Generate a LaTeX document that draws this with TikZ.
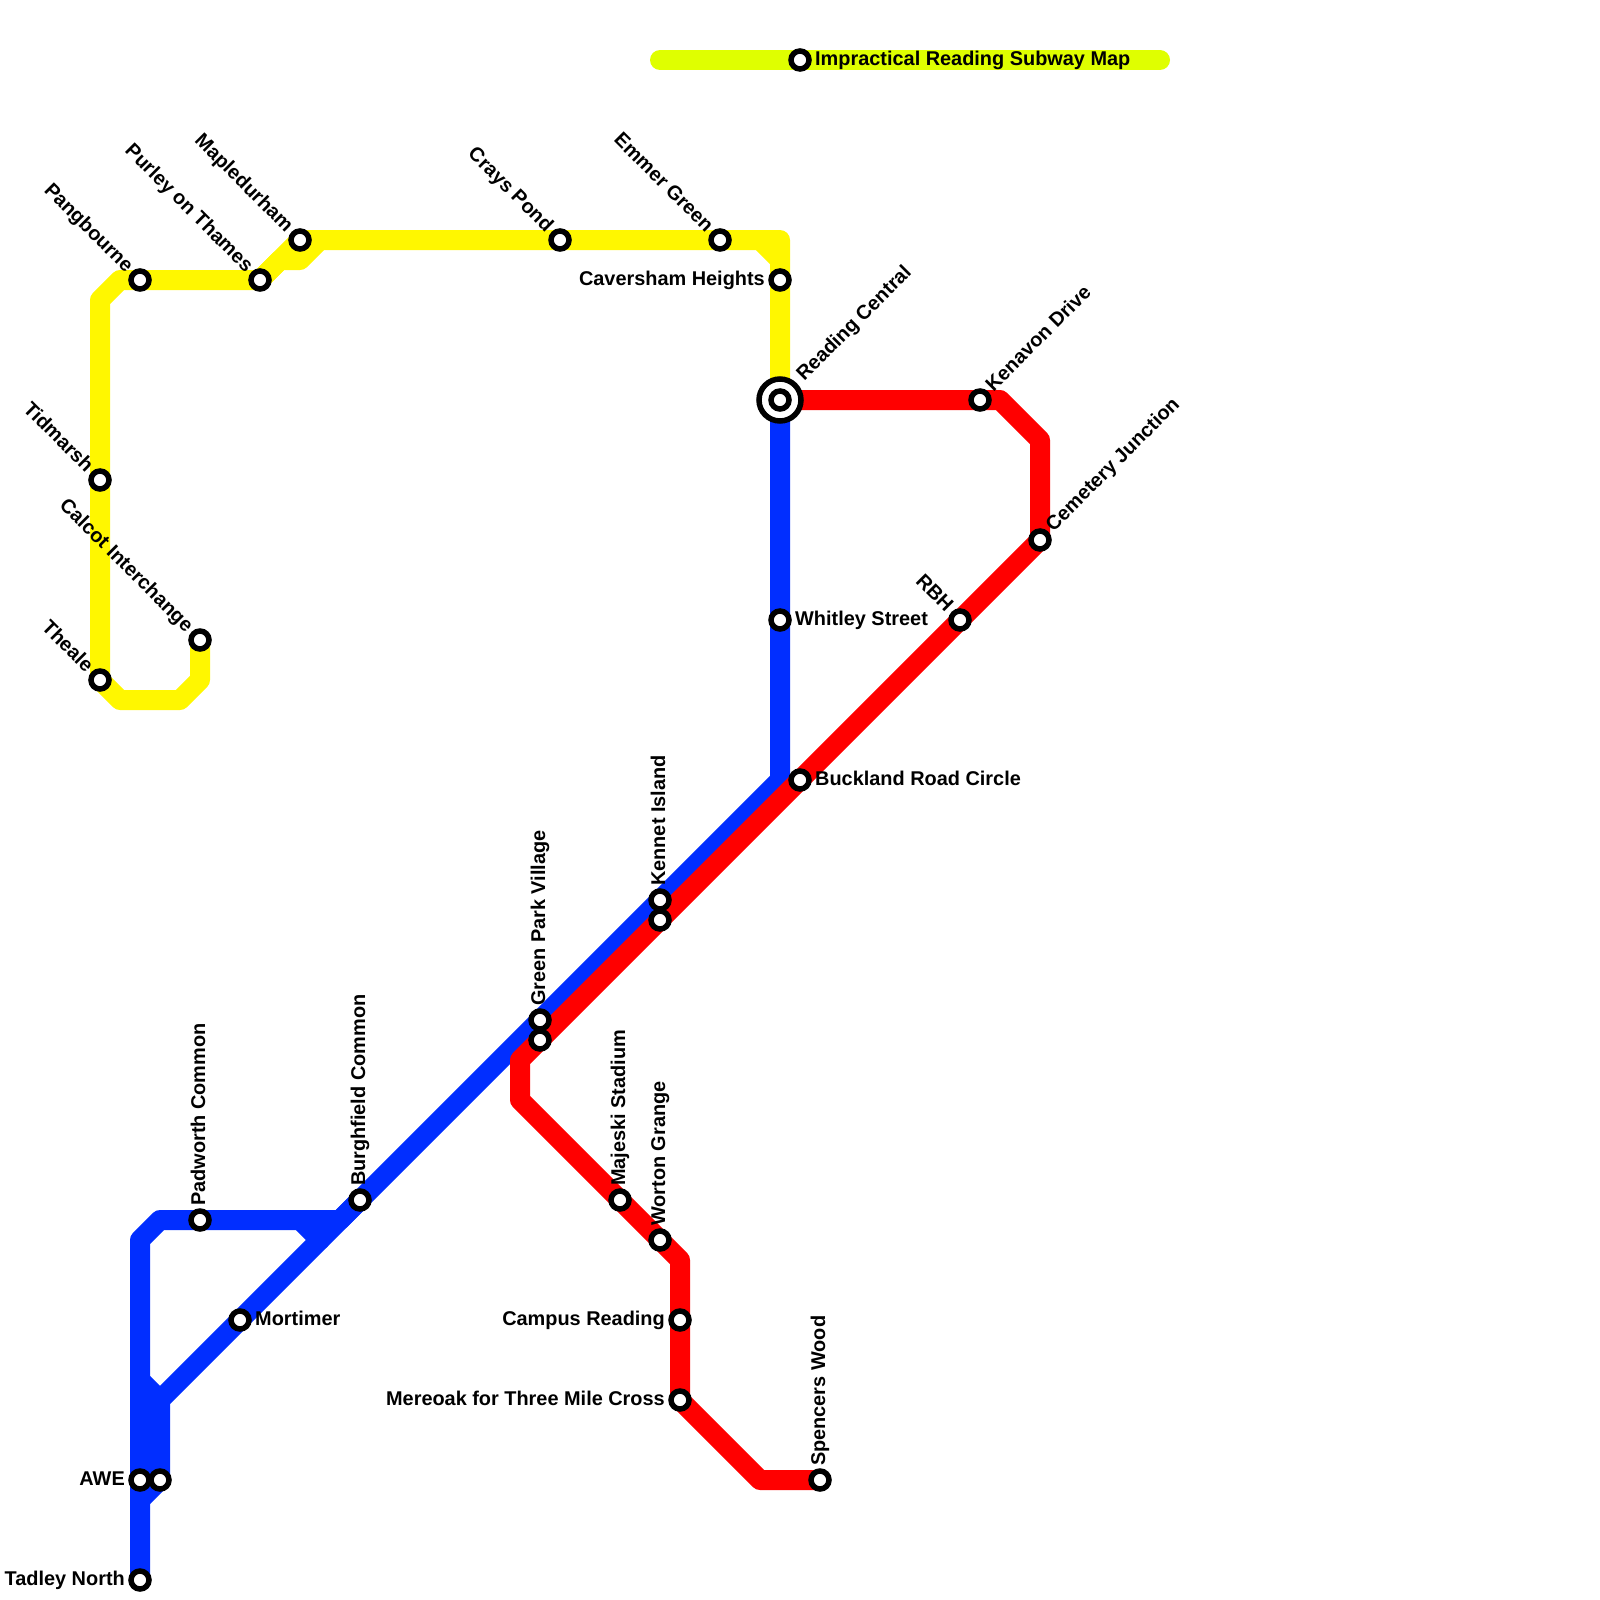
\documentclass[tikz,border=0pt]{standalone}
\usepackage{fontspec}
\setmainfont{Liberation Sans}
\usetikzlibrary{positioning,backgrounds}
\definecolor{MapYellow}{HTML}{FFF700}
\definecolor{MapLime}{HTML}{DFFF00}
\definecolor{MapBlue}{HTML}{012EFF}
\definecolor{MapRed}{HTML}{FF0000}

\begin{document}
\begin{tikzpicture}[
  x=1pt,y=1pt,on grid,
  stn/.style={circle,draw=black,line width=5.5pt,fill=white,minimum size=18pt,inner sep=0pt},
  hub/.style={circle,draw=black,line width=5.5pt,fill=white,minimum size=42pt,inner sep=0pt},
  route/.style={line width=20pt,line join=round,line cap=round},
  lbl/.style={inner sep=0pt,font=\fontsize{19.9}{22}\bfseries\selectfont,text=black},
  lblW/.style={lbl,anchor=base east,xshift=-15pt,yshift=-5.7pt},
  lblE/.style={lbl,anchor=base west,xshift=15pt,yshift=-5.7pt},
  lblN/.style={lbl,rotate=90,anchor=base west,xshift=14pt,yshift=-5.2pt},
  lblNE/.style={lbl,rotate=45,anchor=base west,xshift=15pt,yshift=-4.2pt},
  lblNW/.style={lbl,rotate=-45,anchor=base east,xshift=-15pt,yshift=-5.5pt}
]
\useasboundingbox (0,0) rectangle (1600,-1600);
% stations
\node[hub] (rhub) at (780,-400) {};
\node[stn] (reading) at (rhub) {};
\node[stn,above=120pt of reading] (cav) {};
\node[stn,above left=40pt and 60pt of cav] (emmer) {};
\node[stn,left=160pt of emmer] (crays) {};
\node[stn,left=260pt of crays] (maple) {};
\node[stn,below left=40pt and 40pt of maple] (purley) {};
\node[stn,left=120pt of purley] (pang) {};
\node[stn,below left=200pt and 40pt of pang] (tidmarsh) {};
\node[stn,below=200pt of tidmarsh] (theale) {};
\node[stn,above right=40pt and 100pt of theale] (calcot) {};
\node[stn,below=220pt of reading] (whitley) {};
\node[stn,below right=160pt and 20pt of whitley] (buckland) {};
\node[stn,above right=160pt and 160pt of buckland] (rbh) {};
\node[stn,above right=80pt and 80pt of rbh] (cemetery) {};
\node[stn,right=200pt of reading] (kenavon) {};
\node[stn,below left=140pt and 140pt of buckland] (kennetR) {};
\node[stn,above=20pt of kennetR] (kennetB) {};
\node[stn,below left=120pt and 120pt of kennetR] (greenR) {};
\node[stn,above=20pt of greenR] (greenB) {};
\node[stn,below left=180pt and 180pt of greenB] (burgh) {};
\node[stn,below left=120pt and 120pt of burgh] (mortimer) {};
\node[stn,below left=20pt and 160pt of burgh] (padworth) {};
\node[stn,below left=160pt and 100pt of mortimer] (awe) {};
\node[stn,right=20pt of awe] (aweB) {};
\node[stn,below=100pt of awe] (tadley) {};
\node[stn,below right=160pt and 80pt of greenR] (majeski) {};
\node[stn,below right=40pt and 40pt of majeski] (worton) {};
\node[stn,below right=80pt and 20pt of worton] (campus) {};
\node[stn,below=80pt of campus] (mereoak) {};
\node[stn,below right=80pt and 140pt of mereoak] (spencers) {};
\node[stn,above right=340pt and 20pt of reading] (titlestn) {};
% labels
\node[lblE] (titlelbl) at (titlestn) {Impractical Reading Subway Map};
\node[lblNE,xshift=15pt] (readinglbl) at (reading) {Reading Central};
\node[lblW] (cavlbl) at (cav) {Caversham Heights};
\node[lblNW] (emmerlbl) at (emmer) {Emmer Green};
\node[lblNW] (crayslbl) at (crays) {Crays Pond};
\node[lblNW] (maplelbl) at (maple) {Mapledurham};
\node[lblNW] (purleylbl) at (purley) {Purley on Thames};
\node[lblNW] (panglbl) at (pang) {Pangbourne};
\node[lblNW] (tidmarshlbl) at (tidmarsh) {Tidmarsh};
\node[lblNW] (thealelbl) at (theale) {Theale};
\node[lblNW] (calcotlbl) at (calcot) {Calcot Interchange};
\node[lblE] (whitleylbl) at (whitley) {Whitley Street};
\node[lblE] (bucklandlbl) at (buckland) {Buckland Road Circle};
\node[lblNW] (rbhlbl) at (rbh) {RBH};
\node[lblNE] (cemeterylbl) at (cemetery) {Cemetery Junction};
\node[lblNE] (kenavonlbl) at (kenavon) {Kenavon Drive};
\node[lblN] (kennetlbl) at (kennetB) {Kennet Island};
\node[lblN] (greenlbl) at (greenB) {Green Park Village};
\node[lblN] (burghlbl) at (burgh) {Burghfield Common};
\node[lblE] (mortimerlbl) at (mortimer) {Mortimer};
\node[lblN] (padworthlbl) at (padworth) {Padworth Common};
\node[lblW] (awelbl) at (awe) {AWE};
\node[lblW] (tadleylbl) at (tadley) {Tadley North};
\node[lblN] (majeskilbl) at (majeski) {Majeski Stadium};
\node[lblN] (wortonlbl) at (worton) {Worton Grange};
\node[lblW] (campuslbl) at (campus) {Campus Reading};
\node[lblW] (mereoaklbl) at (mereoak) {Mereoak for Three Mile Cross};
\node[lblN] (spencerslbl) at (spencers) {Spencers Wood};
% bends
\coordinate[left=140pt of titlestn] (t1);
\coordinate[right=360pt of titlestn] (t2);
\coordinate[below=40pt of calcot] (y1);
\coordinate[below left=20pt and 20pt of y1] (y2);
\coordinate[left=60pt of y2] (y3);
\coordinate[above=180pt of tidmarsh] (y4);
\coordinate[above right=20pt and 20pt of y4] (y5);
\coordinate[right=20pt of maple] (y6);
\coordinate[above=40pt of cav] (y7);
\coordinate[above right=20pt and 20pt of purley] (y8);
\coordinate[right=20pt of y8] (y9);
\coordinate[left=20pt of y7] (y10);
\coordinate[above=20pt of cav] (y11);
\coordinate[below=160pt of whitley] (b1);
\coordinate[below left=80pt and 80pt of mortimer] (b2);
\coordinate[below left=20pt and 20pt of aweB] (b3);
\coordinate[above=240pt of awe] (b4);
\coordinate[above right=20pt and 20pt of b4] (b5);
\coordinate[below left=20pt and 20pt of burgh] (b6);
\coordinate[left=40pt of b6] (b7);
\coordinate[below right=20pt and 20pt of b7] (b8);
\coordinate[above left=20pt and 20pt of b2] (b9);
\coordinate[right=20pt of kenavon] (r1);
\coordinate[below right=40pt and 40pt of r1] (r2);
\coordinate[below left=20pt and 20pt of greenR] (r3);
\coordinate[below=40pt of r3] (r4);
\coordinate[below right=20pt and 20pt of worton] (r5);
\coordinate[below right=80pt and 80pt of mereoak] (r6);
% routes
\begin{scope}[on background layer]
\draw[route,MapLime] (t1) -- (t2);
\draw[route,MapYellow] (calcot.center) -- (y1) -- (y2) -- (y3) -- (theale.center) -- (tidmarsh.center) -- (y4) -- (y5) -- (pang.center) -- (purley.center) -- (maple.center) -- (y6) -- (crays.center) -- (emmer.center) -- (y7) -- (cav.center) -- (reading.center);
\draw[route,MapYellow] (purley.center) -- (y8) -- (y9) -- (y6);
\draw[route,MapYellow] (y10) -- (y11);
\draw[route,MapBlue] (reading.center) -- (whitley.center) -- (b1) -- (kennetB.center) -- (greenB.center) -- (burgh.center) -- (mortimer.center) -- (b2) -- (aweB.center) -- (b3);
\draw[route,MapBlue] (tadley.center) -- (b4) -- (b5) -- (padworth.center) -- (b6) -- (burgh.center);
\draw[route,MapBlue] (b7) -- (b8);
\draw[route,MapBlue] (b9) -- (b2);
\draw[route,MapRed] (reading.center) -- (kenavon.center) -- (r1) -- (r2) -- (cemetery.center) -- (rbh.center) -- (buckland.center) -- (kennetR.center) -- (greenR.center) -- (r3) -- (r4) -- (majeski.center) -- (worton.center) -- (r5) -- (campus.center) -- (mereoak.center) -- (r6) -- (spencers.center);
\end{scope}
\end{tikzpicture}
\end{document}
